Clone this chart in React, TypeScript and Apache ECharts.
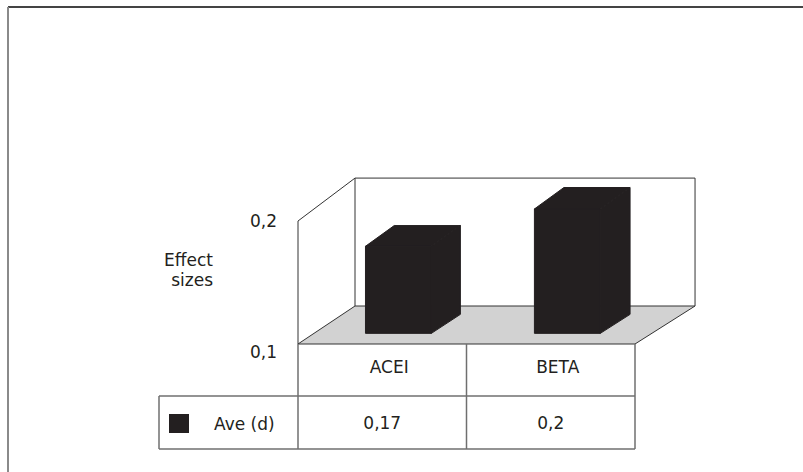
import React, { useEffect, useRef } from 'react';
import * as echarts from 'echarts';

// Chart data
const categories = ['ACEI', 'BETA'];
const seriesName = 'Ave (d)';
const aveValues = [0.17, 0.2];
const yMin = 0.1;
const yMax = 0.2;
const yInterval = 0.1;
const yAxisTitle = 'Effect\nsizes';

const FONT = 'DejaVu Sans';
const INK = '#231f20';
const LINE = '#333333';
const TABLE_LINE = '#6f6f6f';
const FLOOR = '#d2d2d2';

const fmt = (v: number) => String(Number(v.toFixed(4))).replace('.', ',');

// Oblique projection of the plot box: front plane = grid rect, back plane offset and slightly enlarged
const DEPTH_DX = 57;
const DEPTH_DY = -38;
const BACK_SX = 1.009;
const BACK_SY = 1.04;
const BAR_T0 = 0.28;
const BAR_T1 = 0.78;
const BAR_WIDTH = 0.39;

// Data table under the plot
const HEAD_ROW_H = 52;
const VALUE_ROW_H = 53;
const LEGEND_COL_W = 139;

function project(cs: any, xf: number, yf: number, t: number): number[] {
  const x0 = cs.x;
  const yb = cs.y + cs.height;
  const bx = x0 + DEPTH_DX + (xf - x0) * BACK_SX;
  const by = yb + DEPTH_DY - (yb - yf) * BACK_SY;
  return [xf + (bx - xf) * t, yf + (by - yf) * t];
}

export default function App() {
  const ref = useRef<HTMLDivElement>(null);

  useEffect(() => {
    if (!ref.current) return;
    const chart = echarts.init(ref.current, undefined, { renderer: 'svg' });

    const option: any = {
      animation: false,
      backgroundColor: '#ffffff',
      grid: { left: 298, right: 168, top: 221, bottom: 128, containLabel: false },
      xAxis: {
        type: 'category',
        data: categories,
        axisLine: { show: false },
        axisTick: { show: false },
        axisLabel: {
          margin: 14,
          color: INK,
          fontFamily: FONT,
          fontSize: 17,
          padding: [0, 0, 0, 14],
        },
      },
      yAxis: {
        type: 'value',
        min: yMin,
        max: yMax,
        interval: yInterval,
        axisLine: { show: false },
        axisTick: { show: false },
        splitLine: { show: false },
        axisLabel: {
          margin: 21,
          color: INK,
          fontFamily: FONT,
          fontSize: 17,
          formatter: (v: number) => (Math.abs(v - yMin) < 1e-9 ? `{low|${fmt(v)}}` : fmt(v)),
          rich: {
            low: { color: INK, fontFamily: FONT, fontSize: 17, padding: [16, 0, 0, 0] },
          },
        },
      },
      legend: {
        left: 164,
        top: 409,
        itemWidth: 20,
        itemHeight: 19,
        data: [{ name: seriesName, icon: 'rect' }],
        textStyle: { color: INK, fontFamily: FONT, fontSize: 17, padding: [0, 0, 0, 20] },
        selectedMode: false,
      },
      graphic: [
        { type: 'line', shape: { x1: 8, y1: 7, x2: 803, y2: 7 }, style: { stroke: '#444', lineWidth: 2 } },
        { type: 'line', shape: { x1: 8, y1: 7, x2: 8, y2: 472 }, style: { stroke: '#8a8a8a', lineWidth: 2 } },
        {
          type: 'text',
          x: 213,
          y: 270,
          style: {
            text: yAxisTitle,
            fill: INK,
            font: `17px "${FONT}"`,
            align: 'right',
            verticalAlign: 'middle',
            lineHeight: 20,
          },
        },
      ],
      series: [
        {
          // walls, floor and data table grid
          type: 'custom',
          name: 'frame',
          clip: false,
          silent: true,
          data: [[0, yMin]],
          z: 1,
          renderItem: (params: any, api: any) => {
            const cs = params.coordSys;
            const L = cs.x;
            const R = cs.x + cs.width;
            const T = cs.y;
            const B = cs.y + cs.height;
            const bl = project(cs, L, B, 1);
            const br = project(cs, R, B, 1);
            const tl = project(cs, L, T, 1);
            const tr = project(cs, R, T, 1);
            const mid = api.coord([0, yMin])[0] + api.size([1, 0])[0] / 2;
            const r1 = B + HEAD_ROW_H;
            const r2 = r1 + VALUE_ROW_H;
            const lx = L - LEGEND_COL_W;
            const ls = { stroke: LINE, lineWidth: 1, fill: null };
            const ts = { stroke: TABLE_LINE, lineWidth: 1.5, fill: null };
            return {
              type: 'group',
              children: [
                { type: 'polyline', shape: { points: [bl, tl, tr, br] }, style: ls },
                { type: 'line', shape: { x1: L, y1: T, x2: tl[0], y2: tl[1] }, style: ls },
                { type: 'line', shape: { x1: L, y1: T, x2: L, y2: B }, style: ls },
                {
                  type: 'polygon',
                  shape: { points: [[L, B], [R, B], br, bl] },
                  style: { fill: FLOOR, stroke: LINE, lineWidth: 1 },
                },
                { type: 'line', shape: { x1: L, y1: B, x2: L, y2: r2 }, style: ts },
                { type: 'line', shape: { x1: mid, y1: B, x2: mid, y2: r2 }, style: ts },
                { type: 'line', shape: { x1: R, y1: B, x2: R, y2: r2 }, style: ts },
                { type: 'line', shape: { x1: lx, y1: r1, x2: R, y2: r1 }, style: ts },
                { type: 'line', shape: { x1: lx, y1: r2, x2: R, y2: r2 }, style: ts },
                { type: 'line', shape: { x1: lx, y1: r1, x2: lx, y2: r2 }, style: ts },
              ],
            };
          },
        },
        {
          // 3D bars with their values in the table row
          type: 'custom',
          name: seriesName,
          clip: false,
          z: 2,
          itemStyle: { color: INK },
          data: aveValues.map((v, i) => [i, v]),
          encode: { x: 0, y: 1 },
          renderItem: (params: any, api: any) => {
            const cs = params.coordSys;
            const ci = api.value(0);
            const v = api.value(1);
            const [cx, yTop] = api.coord([ci, v]);
            const yBot = api.coord([ci, yMin])[1];
            const hw = (api.size([1, 0])[0] * BAR_WIDTH) / 2;
            const xl = cx - hw;
            const xr = cx + hw;
            const p = (x: number, y: number, t: number) => project(cs, x, y, t);
            const face = { fill: INK, stroke: INK, lineWidth: 1 };
            const rowY = cs.y + cs.height + HEAD_ROW_H + VALUE_ROW_H / 2;
            return {
              type: 'group',
              children: [
                {
                  type: 'polygon',
                  shape: { points: [p(xr, yTop, BAR_T0), p(xr, yTop, BAR_T1), p(xr, yBot, BAR_T1), p(xr, yBot, BAR_T0)] },
                  style: face,
                },
                {
                  type: 'polygon',
                  shape: { points: [p(xl, yTop, BAR_T0), p(xl, yTop, BAR_T1), p(xr, yTop, BAR_T1), p(xr, yTop, BAR_T0)] },
                  style: face,
                },
                {
                  type: 'polygon',
                  shape: { points: [p(xl, yBot, BAR_T0), p(xr, yBot, BAR_T0), p(xr, yTop, BAR_T0), p(xl, yTop, BAR_T0)] },
                  style: face,
                },
                {
                  type: 'text',
                  x: cx,
                  y: rowY,
                  style: {
                    text: fmt(v),
                    fill: INK,
                    font: `17px "${FONT}"`,
                    align: 'center',
                    verticalAlign: 'middle',
                  },
                },
              ],
            };
          },
        },
      ],
    };

    chart.setOption(option);
    return () => chart.dispose();
  }, []);

  return (
    <div
      ref={ref}
      style={{ position: 'fixed', left: 0, top: 0, width: 803, height: 472 }}
    />
  );
}
